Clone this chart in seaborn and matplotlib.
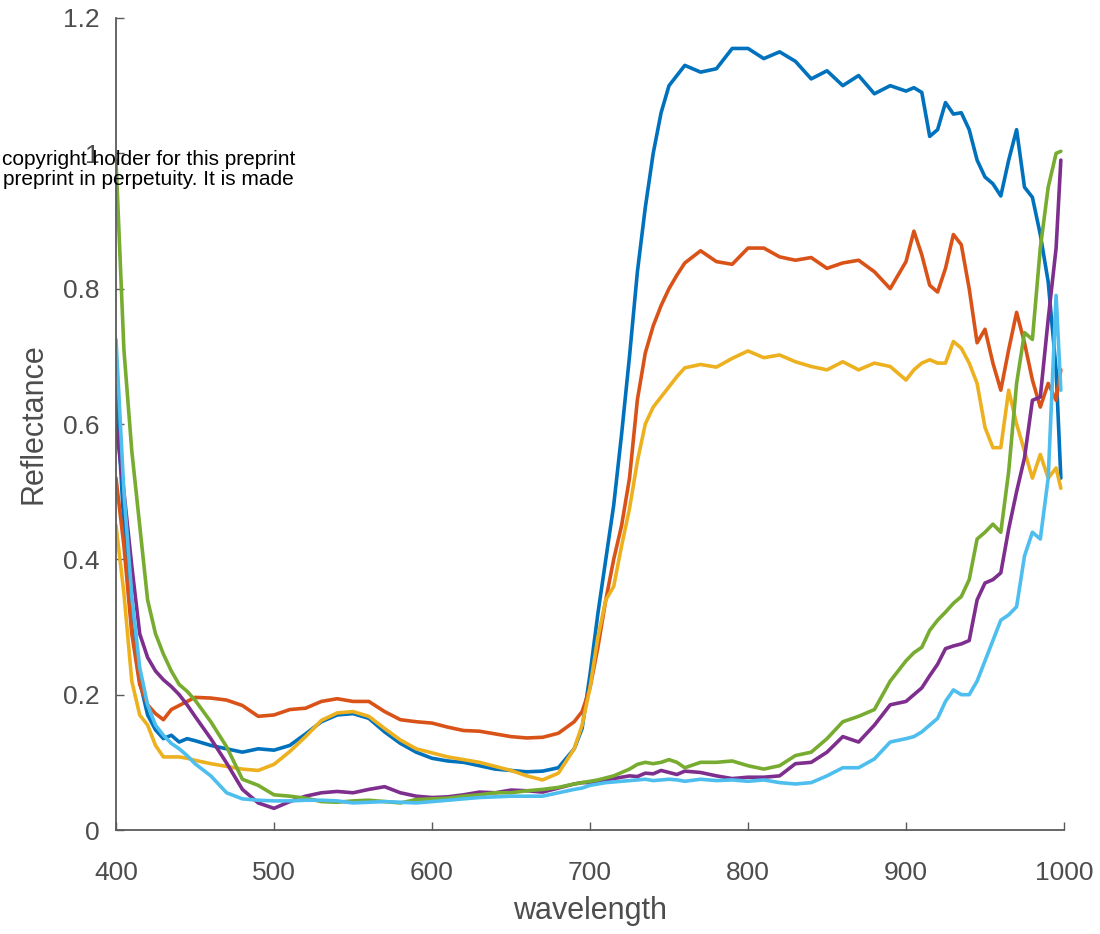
import numpy as np
import pandas as pd
import matplotlib
matplotlib.use("Agg")
import matplotlib.pyplot as plt
import seaborn as sns

# Wavelength grid (nm) shared by every spectrum
wavelength = [400, 405, 410, 415, 420, 425, 430, 435, 440, 445, 450,
              460, 470, 480, 490, 500, 510, 520, 530, 540, 550, 560, 570, 580,
              590, 600, 610, 620, 630, 640, 650, 660, 670, 680, 690,
              695, 700, 705, 710, 715, 720, 725, 730, 735, 740, 745, 750, 755, 760,
              770, 780, 790, 800, 810, 820, 830, 840, 850, 860, 870, 880, 890, 900,
              905, 910, 915, 920, 925, 930, 935, 940, 945, 950, 955, 960, 965, 970,
              975, 980, 985, 990, 995, 998]

# Reflectance spectra, one list per sample
blue = [0.655, 0.45, 0.30, 0.22, 0.17, 0.148, 0.135, 0.14, 0.13, 0.135, 0.132,
        0.125, 0.12, 0.115, 0.12, 0.118, 0.125, 0.142, 0.16, 0.17, 0.172, 0.165, 0.145, 0.128,
        0.115, 0.106, 0.102, 0.10, 0.095, 0.09, 0.088, 0.086, 0.087, 0.092, 0.12,
        0.15, 0.23, 0.32, 0.40, 0.48, 0.585, 0.70, 0.825, 0.92, 1.0, 1.06, 1.10, 1.115, 1.13,
        1.12, 1.125, 1.155, 1.155, 1.14, 1.15, 1.136, 1.11, 1.122, 1.10, 1.115, 1.088, 1.10, 1.092,
        1.097, 1.09, 1.025, 1.035, 1.075, 1.058, 1.06, 1.035, 0.99, 0.965, 0.955, 0.937, 0.99, 1.035,
        0.95, 0.935, 0.88, 0.81, 0.68, 0.52]

orange = [0.52, 0.42, 0.29, 0.215, 0.185, 0.172, 0.163, 0.178, 0.184, 0.19, 0.196,
          0.195, 0.192, 0.184, 0.168, 0.17, 0.178, 0.18, 0.19, 0.194, 0.19, 0.19, 0.175, 0.163,
          0.16, 0.158, 0.152, 0.147, 0.146, 0.142, 0.138, 0.136, 0.137, 0.143, 0.16,
          0.175, 0.21, 0.27, 0.34, 0.40, 0.45, 0.52, 0.636, 0.705, 0.745, 0.775, 0.80, 0.82, 0.838,
          0.856, 0.84, 0.836, 0.86, 0.86, 0.847, 0.842, 0.846, 0.83, 0.838, 0.842, 0.825, 0.80, 0.84,
          0.885, 0.85, 0.805, 0.795, 0.83, 0.88, 0.865, 0.80, 0.72, 0.74, 0.69, 0.65, 0.71, 0.765,
          0.72, 0.665, 0.625, 0.66, 0.635, 0.68]

yellow = [0.45, 0.35, 0.22, 0.17, 0.155, 0.125, 0.108, 0.108, 0.108, 0.106, 0.103,
          0.098, 0.094, 0.09, 0.088, 0.097, 0.116, 0.138, 0.162, 0.173, 0.175, 0.168, 0.15, 0.133,
          0.12, 0.114, 0.108, 0.104, 0.10, 0.094, 0.088, 0.08, 0.074, 0.084, 0.12,
          0.155, 0.21, 0.285, 0.34, 0.36, 0.42, 0.475, 0.545, 0.60, 0.625, 0.64, 0.655, 0.67, 0.683,
          0.688, 0.684, 0.697, 0.708, 0.698, 0.702, 0.692, 0.685, 0.68, 0.692, 0.68, 0.69, 0.685, 0.665,
          0.68, 0.69, 0.695, 0.69, 0.69, 0.722, 0.712, 0.69, 0.66, 0.595, 0.565, 0.565, 0.65, 0.60,
          0.56, 0.52, 0.555, 0.52, 0.535, 0.505]

purple = [0.60, 0.50, 0.39, 0.29, 0.255, 0.235, 0.222, 0.212, 0.20, 0.185, 0.168,
          0.135, 0.099, 0.06, 0.04, 0.032, 0.042, 0.05, 0.055, 0.057, 0.055, 0.06, 0.064, 0.055,
          0.05, 0.048, 0.049, 0.052, 0.056, 0.055, 0.059, 0.058, 0.056, 0.062, 0.068,
          0.07, 0.07, 0.072, 0.074, 0.076, 0.078, 0.08, 0.079, 0.084, 0.083, 0.088, 0.085, 0.082, 0.087,
          0.085, 0.08, 0.076, 0.078, 0.078, 0.08, 0.098, 0.10, 0.115, 0.138, 0.13, 0.155, 0.185, 0.19,
          0.20, 0.21, 0.228, 0.245, 0.268, 0.272, 0.275, 0.28, 0.34, 0.365, 0.37, 0.38, 0.445, 0.50,
          0.55, 0.635, 0.64, 0.755, 0.86, 0.99]

green = [0.99, 0.71, 0.56, 0.45, 0.34, 0.29, 0.26, 0.235, 0.215, 0.205, 0.192,
         0.16, 0.123, 0.075, 0.066, 0.052, 0.05, 0.047, 0.042, 0.041, 0.043, 0.044, 0.042, 0.04,
         0.045, 0.046, 0.047, 0.05, 0.052, 0.055, 0.055, 0.058, 0.06, 0.063, 0.068,
         0.07, 0.072, 0.074, 0.077, 0.08, 0.085, 0.09, 0.097, 0.10, 0.098, 0.10, 0.104, 0.10, 0.092,
         0.10, 0.10, 0.102, 0.095, 0.09, 0.095, 0.11, 0.115, 0.135, 0.16, 0.168, 0.178, 0.22, 0.25,
         0.262, 0.27, 0.295, 0.31, 0.322, 0.335, 0.345, 0.37, 0.43, 0.44, 0.452, 0.44, 0.53, 0.66,
         0.735, 0.725, 0.86, 0.95, 1.0, 1.003]

lightblue = [0.725, 0.50, 0.345, 0.24, 0.185, 0.155, 0.14, 0.128, 0.12, 0.11, 0.098,
             0.08, 0.055, 0.046, 0.044, 0.043, 0.043, 0.044, 0.044, 0.043, 0.04, 0.041, 0.042, 0.041,
             0.04, 0.042, 0.044, 0.046, 0.048, 0.049, 0.05, 0.05, 0.05, 0.055, 0.06,
             0.062, 0.066, 0.068, 0.07, 0.071, 0.072, 0.073, 0.074, 0.075, 0.073, 0.074, 0.075, 0.074, 0.072,
             0.075, 0.073, 0.074, 0.072, 0.074, 0.07, 0.068, 0.07, 0.08, 0.092, 0.092, 0.105, 0.13, 0.135,
             0.138, 0.145, 0.155, 0.165, 0.19, 0.207, 0.20, 0.20, 0.22, 0.25, 0.28, 0.31, 0.318, 0.33,
             0.405, 0.44, 0.43, 0.52, 0.79, 0.65]

sample_names = ["S1", "S2", "S3", "S4", "S5", "S6"]
series = [blue, orange, yellow, purple, green, lightblue]
line_colors = ["#0072BD", "#D95319", "#EDB120", "#7E2F8E", "#77AC30", "#4DBEEE"]

# Long-format table for seaborn
df = pd.concat(
    [pd.DataFrame({"wavelength": wavelength, "Reflectance": vals, "sample": name})
     for name, vals in zip(sample_names, series)],
    ignore_index=True,
)

sns.set_theme(style="ticks")
plt.rcParams["font.family"] = ["Liberation Sans", "DejaVu Sans"]

axis_grey = "#5a5a5a"
text_grey = "#4d4d4d"

fig = plt.figure(figsize=(11, 9.34), dpi=100)
ax = fig.add_axes([116 / 1100, 1 - 830 / 934, (1064 - 116) / 1100, (830 - 18) / 934])

sns.lineplot(data=df, x="wavelength", y="Reflectance", hue="sample",
             palette=dict(zip(sample_names, line_colors)), estimator=None,
             sort=False, linewidth=2.6, legend=False, ax=ax)

ax.set_xlim(400, 1000)
ax.set_ylim(0, 1.2)
ax.set_xticks([400, 500, 600, 700, 800, 900, 1000])
ax.set_yticks([0, 0.2, 0.4, 0.6, 0.8, 1.0, 1.2])
ax.set_yticklabels(["0", "0.2", "0.4", "0.6", "0.8", "1", "1.2"])

for side in ("top", "right"):
    ax.spines[side].set_visible(False)
for side in ("left", "bottom"):
    ax.spines[side].set_color(axis_grey)
    ax.spines[side].set_linewidth(1.3)

ax.tick_params(axis="both", direction="in", length=5.5, width=1.0,
               color=axis_grey, labelcolor=text_grey, labelsize=19)
ax.tick_params(axis="x", pad=22)
ax.tick_params(axis="y", pad=12)

ax.set_xlabel("wavelength", fontsize=22, color=text_grey, labelpad=8)
ax.set_ylabel("Reflectance", fontsize=22, color=text_grey, labelpad=10)

# Preprint notice printed over the upper-left corner
fig.text(0.002, 1 - 165 / 934, "copyright holder for this preprint",
         fontsize=15, color="black", ha="left", va="baseline")
fig.text(0.003, 1 - 185 / 934, "preprint in perpetuity. It is made",
         fontsize=15, color="black", ha="left", va="baseline")

fig.savefig("out.png", dpi=100)
